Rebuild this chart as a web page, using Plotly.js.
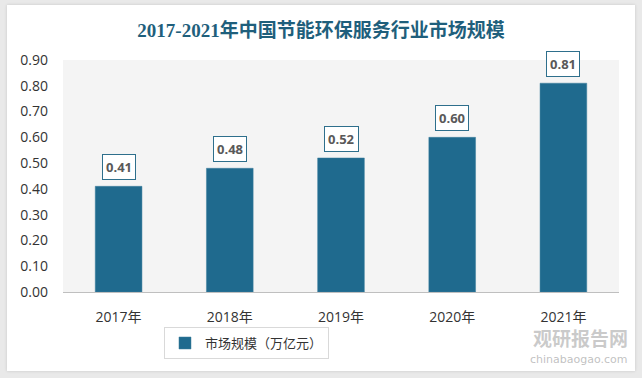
<!DOCTYPE html>
<html><head><meta charset="utf-8">
<script src="https://cdn.plot.ly/plotly-3.0.1.min.js"></script>
<style>
html,body{margin:0;padding:0;background:#e9e9e9;width:642px;height:378px;overflow:hidden;}
#chart{position:absolute;left:7px;top:5px;width:628px;height:366px;background:#fff;box-shadow:0 0 3px rgba(0,0,0,0.15);}
</style></head>
<body><div id="chart"></div>
<script>
const categories = ['2017年','2018年','2019年','2020年','2021年'];
const values = [0.41, 0.48, 0.52, 0.60, 0.81];
const seriesName = '市场规模（万亿元）';
const titleText = '2017-2021年中国节能环保服务行业市场规模';
const yTicks = [0,0.1,0.2,0.3,0.4,0.5,0.6,0.7,0.8,0.9];

const barColor = '#1f6a8e';
const trace = {
  type:'bar', x:categories, y:values, name:seriesName,
  marker:{color:barColor, line:{color:'#3d7e9c', width:0.5}},
  width:0.42, hoverinfo:'skip'
};
const annotations = categories.map((c,i)=>({
  x:c, y:values[i], xref:'x', yref:'y', text:values[i].toFixed(2),
  showarrow:false, yanchor:'bottom', yshift:6,
  bgcolor:'#ffffff', bordercolor:'#2e6f8c', borderwidth:1, borderpad:3,
  font:{family:'Open Sans, DejaVu Sans, sans-serif', size:13, color:'#595959', weight:'bold'}
}));
annotations.push({xref:'paper',yref:'paper',x:1.02,y:-0.195,xanchor:'right',yanchor:'middle',showarrow:false,
  text:'<b>观研报告网</b>',font:{family:'Noto Sans CJK SC',size:19,color:'rgba(150,150,150,0.5)'}});
annotations.push({xref:'paper',yref:'paper',x:1.02,y:-0.293,xanchor:'right',yanchor:'middle',showarrow:false,
  text:'chinabaogao.com',font:{family:'DejaVu Sans, sans-serif',size:11,color:'rgba(150,150,150,0.6)'}});

const layout = {
  width:628, height:366,
  margin:{l:56, r:16, t:55, b:72},
  paper_bgcolor:'#ffffff', plot_bgcolor:'#f4f4f4',
  title:{text:titleText, x:0.5, xref:'container', xanchor:'center', y:0.93, yref:'container', yanchor:'middle',
    font:{family:'Liberation Serif, Noto Sans CJK SC, serif', size:19, color:'#1f5f7c', weight:'bold'}},
  xaxis:{type:'category', automargin:false, showgrid:false, showline:true, linecolor:'#bfbfbf', linewidth:1,
    ticks:'', ticklabelstandoff:12, tickfont:{family:'Open Sans, Noto Sans CJK SC, sans-serif', size:14, color:'#333'}},
  yaxis:{range:[0,0.9], automargin:false, tickvals:yTicks, tickformat:'.2f', showgrid:false, zeroline:false,
    ticks:'', tickfont:{family:'Open Sans, DejaVu Sans, sans-serif', size:14, color:'#333'}, ticklabelstandoff:14},
  showlegend:true,
  legend:{orientation:'h', x:0.33, xanchor:'center', y:-0.22, yanchor:'middle',
    bordercolor:'#d9d9d9', borderwidth:1, bgcolor:'#fff', itemwidth:30,
    font:{family:'Noto Sans CJK SC, sans-serif', size:13, color:'#333'}},
  annotations:annotations,
  bargap:0.58
};
Plotly.newPlot('chart',[trace],layout,{displayModeBar:false,staticPlot:true});
</script></body></html>
